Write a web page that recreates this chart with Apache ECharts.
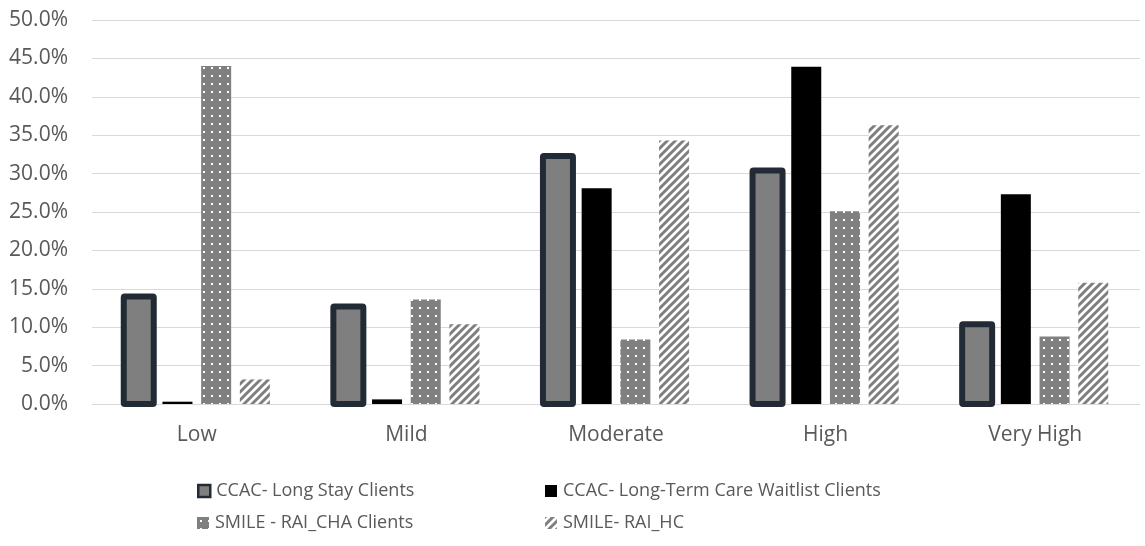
<!DOCTYPE html>
<html>
<head>
<meta charset="utf-8">
<script src="https://cdn.jsdelivr.net/npm/echarts@6/dist/echarts.min.js"></script>
<style>
  html, body { margin: 0; padding: 0; background: #ffffff; }
  #chart { width: 1145px; height: 546px; }
</style>
</head>
<body>
<div id="chart"></div>
<script>
// Risk level categories
const categories = ['Low', 'Mild', 'Moderate', 'High', 'Very High'];

// Share of clients in each level (%)
const longStay = [14.0, 12.7, 32.3, 30.4, 10.4];
const waitlist = [0.3, 0.6, 28.1, 43.9, 27.3];
const raiCha = [44.0, 13.6, 8.4, 25.1, 8.8];
const raiHc = [3.2, 10.4, 34.3, 36.3, 15.8];

const seriesNames = [
  'CCAC- Long Stay Clients',
  'CCAC- Long-Term Care Waitlist Clients',
  'SMILE - RAI_CHA Clients',
  'SMILE- RAI_HC'
];

const yMin = 0, yMax = 50, yStep = 5;

// Bar geometry shared by the bars and the outline overlay
const BAR_W = 30;
const BAR_GAP_RATIO = 0.29;
const N_SERIES = 4;

// Fill patterns
function dotPattern() {
  const c = document.createElement('canvas');
  c.width = 8; c.height = 8;
  const g = c.getContext('2d');
  g.fillStyle = '#808080';
  g.fillRect(0, 0, 8, 8);
  g.fillStyle = '#ffffff';
  g.fillRect(3, 3, 2, 2);
  return c;
}
function hatchPattern() {
  const c = document.createElement('canvas');
  c.width = 8; c.height = 8;
  const g = c.getContext('2d');
  g.fillStyle = '#ffffff';
  g.fillRect(0, 0, 8, 8);
  g.strokeStyle = '#7f7f7f';
  g.lineWidth = 3;
  g.beginPath();
  g.moveTo(-2, 10); g.lineTo(10, -2);
  g.moveTo(-2, 2); g.lineTo(2, -2);
  g.moveTo(6, 10); g.lineTo(10, 6);
  g.stroke();
  return c;
}

const dotFill = { image: dotPattern(), repeat: 'repeat' };
const hatchFill = { image: hatchPattern(), repeat: 'repeat' };

const textColor = '#595959';
const fontFamily = '"Open Sans", sans-serif';

const chart = echarts.init(document.getElementById('chart'), null, { renderer: 'canvas' });

function legendAt(name, left, top, itemStyle) {
  return {
    data: [{ name: name, itemStyle: itemStyle }],
    left: left,
    top: top,
    itemWidth: 12,
    itemHeight: 12,
    icon: 'rect',
    selectedMode: false,
    textStyle: { color: textColor, fontSize: 18, fontFamily: fontFamily, padding: [0, 0, 0, 1] }
  };
}

// Thick outline centred on the edges of the first series' bars
function outlineItem(params, api) {
  const idx = api.value(0);
  const top = api.coord([idx, api.value(1)]);
  const base = api.coord([idx, 0]);
  const gap = BAR_W * BAR_GAP_RATIO;
  const groupW = N_SERIES * BAR_W + (N_SERIES - 1) * gap;
  const cx = top[0] - groupW / 2 + BAR_W / 2;
  return {
    type: 'rect',
    shape: { x: cx - BAR_W / 2, y: top[1], width: BAR_W, height: base[1] - top[1], r: 1 },
    style: { fill: 'none', stroke: '#222a35', lineWidth: 6, lineJoin: 'round' }
  };
}

const option = {
  animation: false,
  backgroundColor: '#ffffff',
  grid: { left: 92, right: 5, top: 20, bottom: 142, containLabel: false },
  legend: [
    legendAt(seriesNames[0], 192, 477, { color: '#7f7f7f', borderColor: '#222a35', borderWidth: 2.5 }),
    legendAt(seriesNames[1], 540, 477, { color: '#000000', borderWidth: 0 }),
    legendAt(seriesNames[2], 192, 509, { color: dotFill, borderWidth: 0 }),
    legendAt(seriesNames[3], 540, 509, { color: hatchFill, borderWidth: 0 })
  ],
  xAxis: {
    type: 'category',
    data: categories,
    axisLine: { show: true, lineStyle: { color: '#d9d9d9', width: 1 } },
    axisTick: { show: false },
    axisLabel: { color: textColor, fontSize: 21, fontFamily: fontFamily, margin: 21 }
  },
  yAxis: {
    type: 'value',
    min: yMin,
    max: yMax,
    interval: yStep,
    axisLine: { show: false },
    axisTick: { show: false },
    splitLine: { show: true, lineStyle: { color: '#d9d9d9', width: 1 } },
    axisLabel: {
      color: textColor, fontSize: 21, fontFamily: fontFamily, margin: 24,
      formatter: v => v.toFixed(1) + '%'
    }
  },
  series: [
    {
      name: seriesNames[0], type: 'bar', data: longStay,
      barWidth: BAR_W, barGap: (BAR_GAP_RATIO * 100) + '%',
      itemStyle: { color: '#7f7f7f' }
    },
    {
      name: seriesNames[1], type: 'bar', data: waitlist,
      barWidth: BAR_W, barGap: (BAR_GAP_RATIO * 100) + '%',
      itemStyle: { color: '#000000' }
    },
    {
      name: seriesNames[2], type: 'bar', data: raiCha,
      barWidth: BAR_W, barGap: (BAR_GAP_RATIO * 100) + '%',
      itemStyle: { color: dotFill }
    },
    {
      name: seriesNames[3], type: 'bar', data: raiHc,
      barWidth: BAR_W, barGap: (BAR_GAP_RATIO * 100) + '%',
      itemStyle: { color: hatchFill }
    },
    {
      name: 'outline', type: 'custom', silent: true, z: 3,
      data: longStay.map((v, i) => [i, v]),
      encode: { x: 0, y: 1 },
      renderItem: outlineItem
    }
  ]
};

chart.setOption(option);
</script>
</body>
</html>
